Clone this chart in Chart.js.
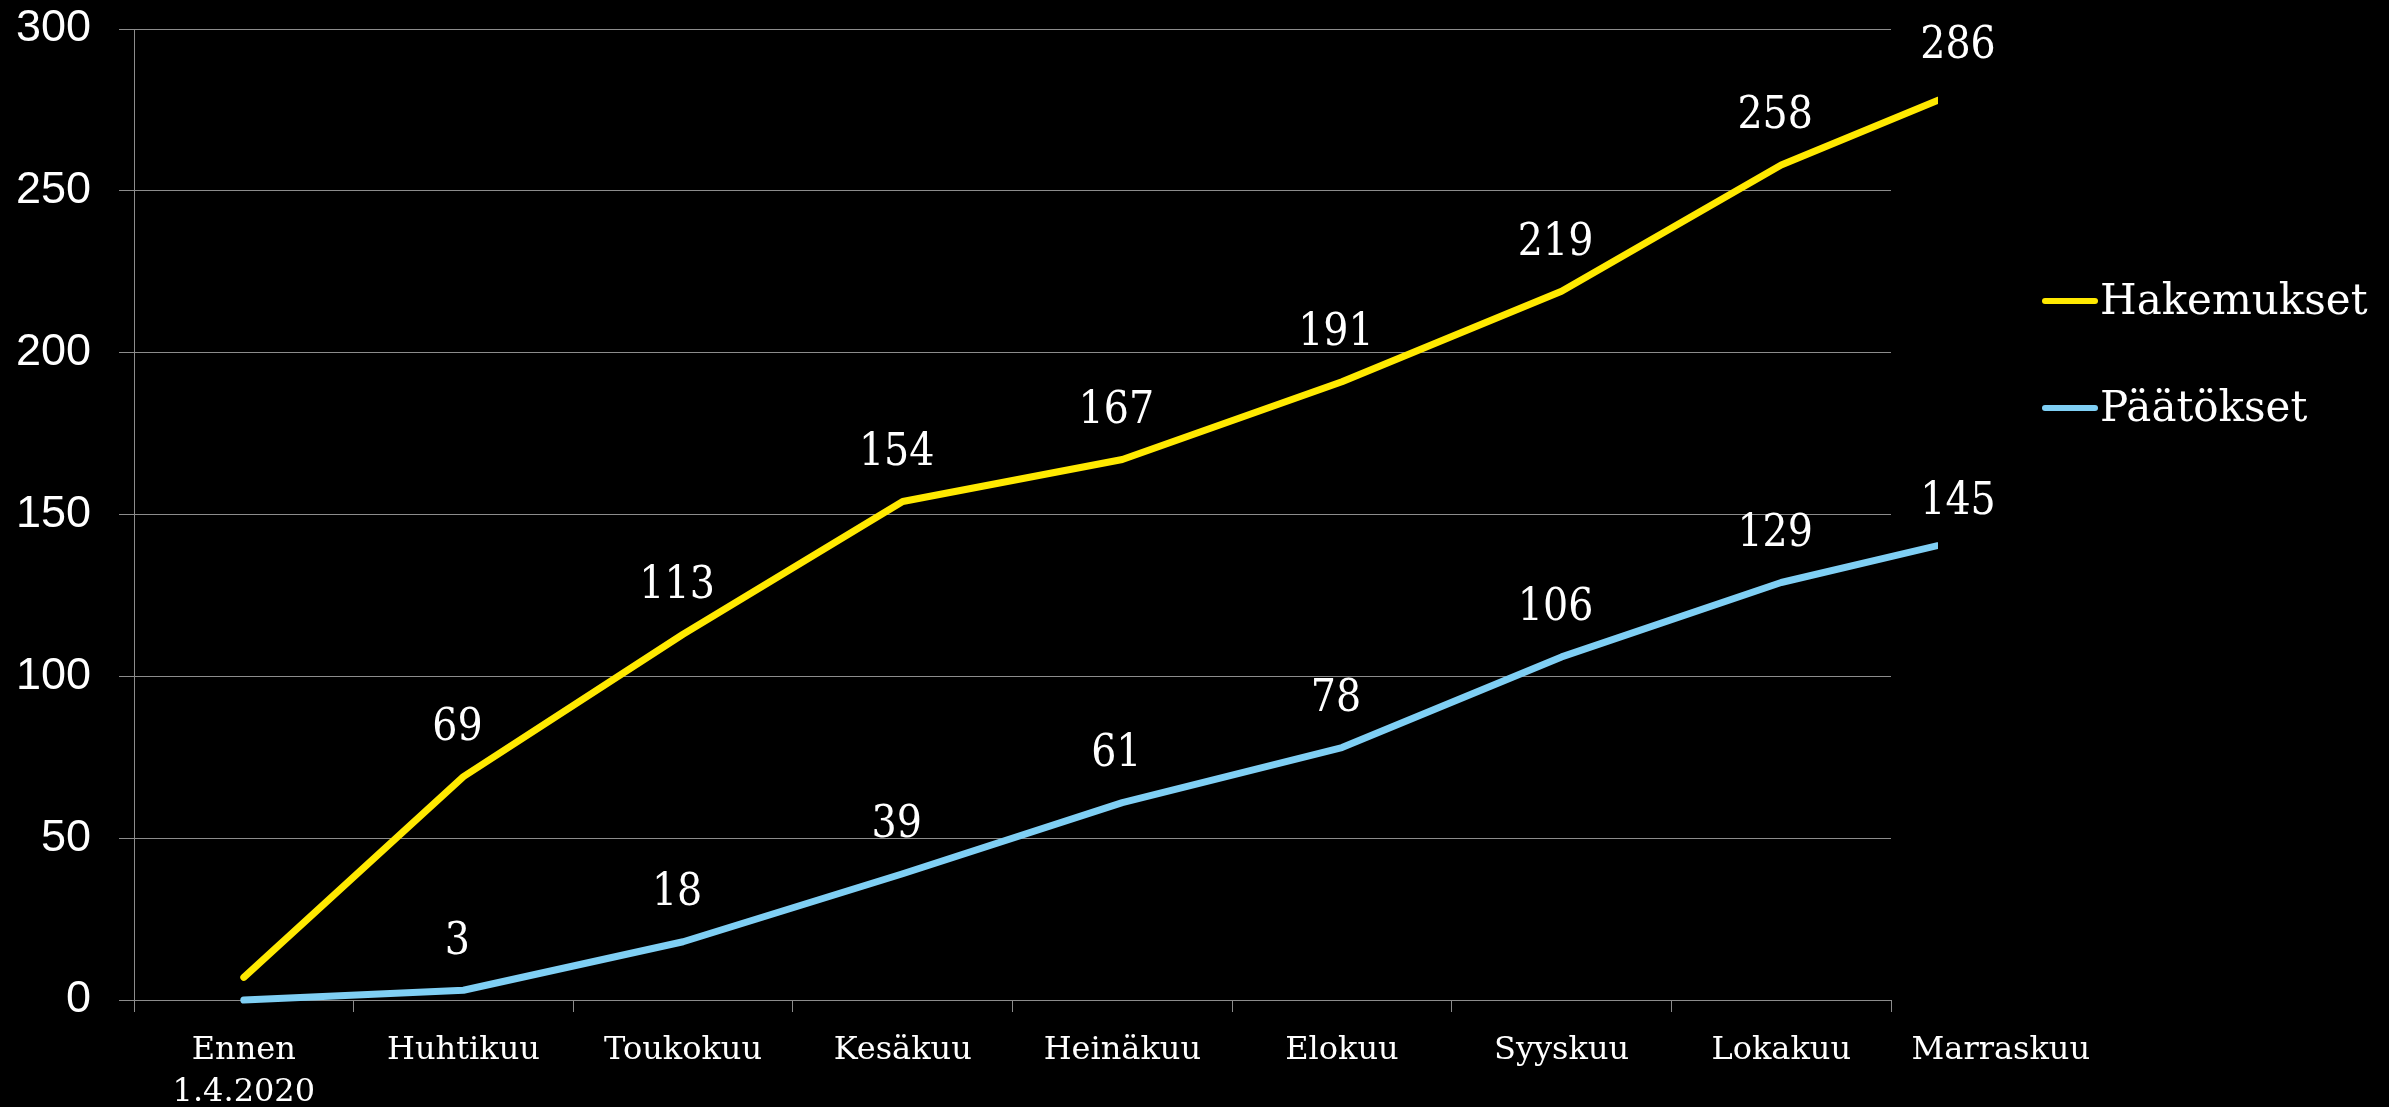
<!DOCTYPE html>
<html>
<head>
<meta charset="utf-8">
<script src="https://cdn.jsdelivr.net/npm/chart.js@4/dist/chart.umd.min.js"></script>
<style>
html,body{margin:0;padding:0;background:#000;overflow:hidden}
#c{display:block}
</style>
</head>
<body>
<canvas id="c" width="2389" height="1107"></canvas>
<script>
// ---- data ----
const categories = [['Ennen', '1.4.2020'], 'Huhtikuu', 'Toukokuu', 'Kesäkuu', 'Heinäkuu', 'Elokuu', 'Syyskuu', 'Lokakuu', 'Marraskuu'];
const hakemukset = [7, 69, 113, 154, 167, 191, 219, 258, 286];
const paatokset = [0, 3, 18, 39, 61, 78, 106, 129, 145];
const seriesNames = ['Hakemukset', 'Päätökset'];
const yTicks = [0, 50, 100, 150, 200, 250, 300];

// ---- styling ----
const GRID = '#8c8c8c';
const YELLOW = '#FFE900';
const BLUE = '#7FCFF4';
const SERIF = '"DejaVu Serif", serif';
const LABEL_FONT = '"DejaVu Serif Condensed", "DejaVu Serif", serif';

const valueLabels = {
  id: 'valueLabels',
  afterDatasetsDraw(chart) {
    const ctx = chart.ctx;
    const area = chart.chartArea;
    ctx.save();
    ctx.fillStyle = '#ffffff';
    ctx.font = '44px ' + LABEL_FONT;
    ctx.textAlign = 'center';
    ctx.textBaseline = 'middle';
    chart.data.datasets.forEach((ds, di) => {
      const meta = chart.getDatasetMeta(di);
      meta.data.forEach((pt, i) => {
        if (i === 0) return;
        let x = pt.x - 6;
        let y = pt.y - 48;
        if (pt.x > area.right) { x = area.right + 67; y = pt.y - 28; }
        ctx.fillText(String(ds.data[i]), x, y);
      });
    });
    ctx.restore();
  }
};

const sideLegend = {
  id: 'sideLegend',
  afterDraw(chart) {
    const ctx = chart.ctx;
    const area = chart.chartArea;
    const x0 = area.right + 151;
    ctx.save();
    chart.data.datasets.forEach((ds, i) => {
      const y = area.top + 272 + i * 107;
      ctx.strokeStyle = ds.borderColor;
      ctx.lineWidth = 6;
      ctx.lineCap = 'round';
      ctx.beginPath();
      ctx.moveTo(x0 + 3, y);
      ctx.lineTo(x0 + 53, y);
      ctx.stroke();
      ctx.fillStyle = '#ffffff';
      ctx.font = '42px ' + SERIF;
      ctx.textAlign = 'left';
      ctx.textBaseline = 'middle';
      ctx.fillText(ds.label, x0 + 58, y + 2);
    });
    ctx.restore();
  }
};

const lineStyle = {
  borderWidth: 7,
  pointRadius: 0,
  pointHoverRadius: 0,
  tension: 0,
  fill: false,
  borderCapStyle: 'round',
  borderJoinStyle: 'round',
  clip: { left: 10, top: 40, right: 47, bottom: 10 }
};

new Chart(document.getElementById('c'), {
  type: 'line',
  data: {
    labels: categories,
    datasets: [
      Object.assign({ label: seriesNames[0], data: hakemukset, borderColor: YELLOW, backgroundColor: YELLOW }, lineStyle),
      Object.assign({ label: seriesNames[1], data: paatokset, borderColor: BLUE, backgroundColor: BLUE }, lineStyle)
    ]
  },
  options: {
    responsive: false,
    animation: false,
    devicePixelRatio: 1,
    layout: { padding: { left: 10, top: 29, right: 498, bottom: 0 } },
    plugins: {
      legend: { display: false },
      tooltip: { enabled: false }
    },
    scales: {
      x: {
        type: 'category',
        offset: true,
        // show 8 categories inside the plot; the last one sits just outside, as in the original
        afterDataLimits(s) { s.min = 0; s.max = categories.length - 2; },
        afterBuildTicks(s) { s.ticks = categories.map((_, i) => ({ value: i })); },
        afterFit(s) { s.height = 107; s.paddingLeft = 0; s.paddingRight = 0; },
        grid: { display: true, drawOnChartArea: false, drawTicks: true, tickLength: 12, offset: true, color: GRID, lineWidth: 1 },
        border: { display: true, color: GRID, width: 1 },
        ticks: {
          color: '#ffffff',
          font: { family: SERIF, size: 32, lineHeight: 1.3 },
          padding: 18,
          autoSkip: false,
          maxRotation: 0,
          minRotation: 0
        }
      },
      y: {
        min: 0,
        max: 300,
        afterBuildTicks(s) { s.ticks = yTicks.map(v => ({ value: v })); },
        afterFit(s) { s.width = 124; s.paddingTop = 0; s.paddingBottom = 0; },
        grid: { color: GRID, lineWidth: 1, drawTicks: true, tickLength: 15 },
        border: { display: true, color: GRID, width: 1 },
        ticks: {
          color: '#ffffff',
          font: { family: '"Liberation Sans", Arial, sans-serif', size: 45 },
          padding: 28
        }
      }
    }
  },
  plugins: [valueLabels, sideLegend]
});
</script>
</body>
</html>
